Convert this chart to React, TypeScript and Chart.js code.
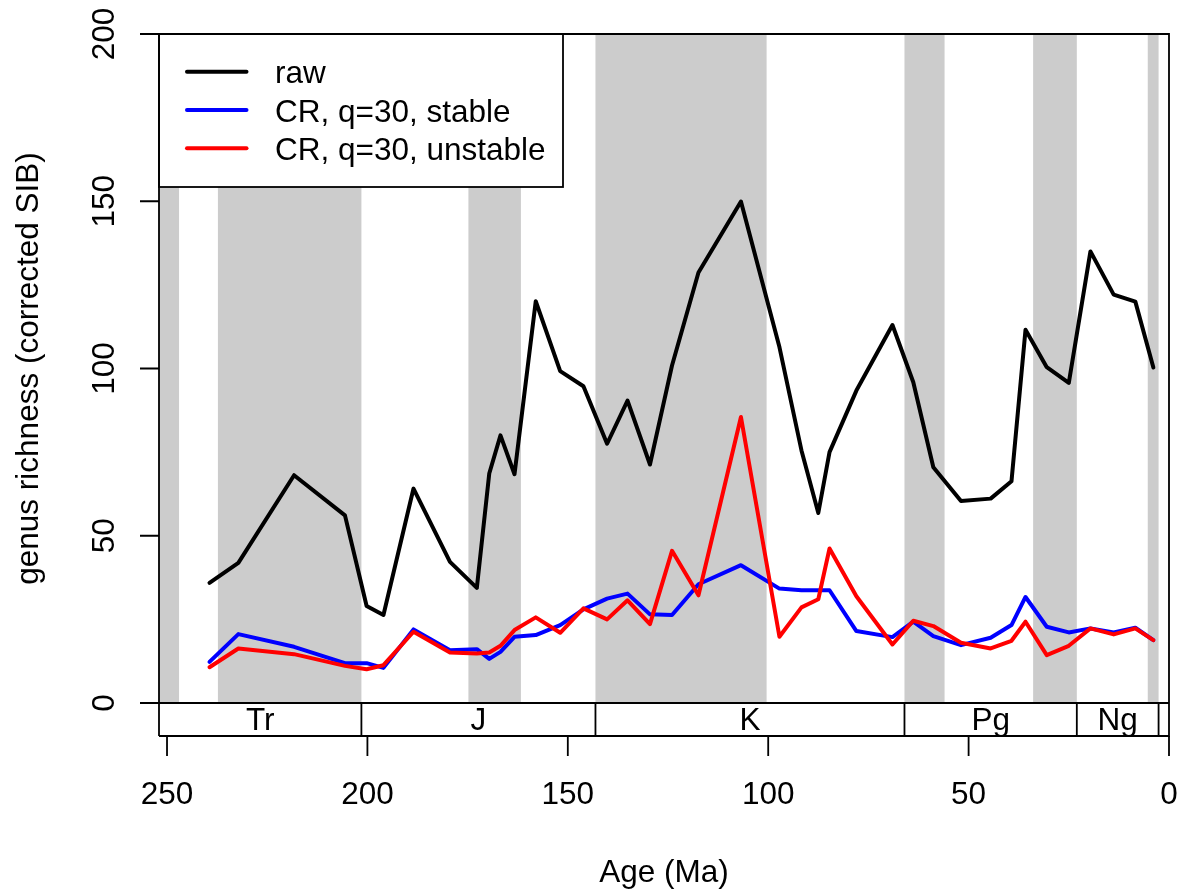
import React, { useEffect, useRef } from 'react';
import { Chart, registerables } from 'chart.js';

Chart.register(...registerables);

// Bin mid-point ages (Ma)
const ages = [239.4, 232.2, 218.3, 205.6, 200.2, 196.0, 188.5, 179.4, 172.7, 169.6, 166.8, 163.3, 158.0, 151.9, 146.1, 140.2, 135.1, 129.5, 124.0, 117.4, 106.8, 97.2, 91.7, 87.5, 84.7, 78.0, 69.0, 63.8, 58.8, 51.9, 44.5, 39.3, 35.8, 30.5, 25.0, 19.6, 13.8, 8.4, 3.9];
const raw = [35.9, 41.9, 68.1, 56.1, 29.0, 26.3, 64.1, 42.2, 34.4, 68.6, 80.0, 68.4, 120.1, 99.2, 94.7, 77.5, 90.4, 71.3, 100.9, 128.7, 149.9, 106.4, 75.5, 56.8, 75.0, 93.4, 113.0, 95.9, 70.5, 60.4, 61.1, 66.3, 111.6, 100.4, 95.7, 135.0, 122.1, 120.0, 100.3];
const stable = [12.3, 20.6, 16.8, 11.9, 11.9, 10.5, 22.0, 15.8, 16.1, 13.2, 15.3, 19.8, 20.3, 23.3, 28.0, 31.2, 32.7, 26.5, 26.3, 35.5, 41.2, 34.2, 33.7, 33.7, 33.7, 21.5, 19.7, 24.3, 20.0, 17.3, 19.5, 23.3, 31.7, 22.8, 21.1, 22.3, 21.1, 22.5, 18.8];
const unstable = [10.7, 16.3, 14.6, 11.1, 10.1, 11.3, 21.3, 15.1, 14.8, 15.1, 17.1, 21.8, 25.6, 21.0, 28.3, 25.0, 30.7, 23.6, 45.5, 32.2, 85.5, 19.8, 28.6, 31.0, 46.2, 31.9, 17.5, 24.6, 23.0, 18.0, 16.3, 18.6, 24.3, 14.3, 17.1, 22.3, 20.5, 22.3, 18.8];

// Grey (alternating epoch) bands
const bandStarts = [252.0, 237.3, 174.8, 143.1, 66.0, 33.9, 5.3];
const bandEnds = [247.0, 201.5, 161.7, 100.4, 56.0, 23.0, 2.6];

// Periods
const periodNames = ['Tr', 'J', 'K', 'Pg', 'Ng', ''];
const periodBounds = [252.0, 201.5, 143.1, 66.0, 23.0, 2.6, 0];

const xTicks = [250, 200, 150, 100, 50, 0];
const yTicks = [0, 50, 100, 150, 200];

const seriesLabels = ['raw', 'CR, q=30, stable', 'CR, q=30, unstable'];
const seriesColors = ['#000000', '#0000ff', '#ff0000'];

const xTitle = 'Age (Ma)';
const yTitle = 'genus richness (corrected SIB)';

export default function App() {
  const ref = useRef<HTMLCanvasElement>(null);

  useEffect(() => {
    document.body.style.margin = '0';
    const FONT = '31.5px "Liberation Sans", Arial, Helvetica, sans-serif';
    const LW = 1.8;
    const DLW = 4;
    const scaleBottom = 736;

    const decor = {
      id: 'rdecor',
      beforeDatasetsDraw(chart: any) {
        const { ctx, chartArea: a, scales } = chart;
        const x = scales.x;
        ctx.save();
        ctx.fillStyle = '#cccccc';
        for (let i = 0; i < bandStarts.length; i++) {
          const x1 = x.getPixelForValue(bandStarts[i]);
          const x2 = x.getPixelForValue(bandEnds[i]);
          ctx.fillRect(x1, a.top, x2 - x1, a.bottom - a.top);
        }
        ctx.restore();
      },
      afterDatasetsDraw(chart: any) {
        const { ctx, chartArea: a, scales } = chart;
        const x = scales.x;
        const y = scales.y;
        ctx.save();
        ctx.strokeStyle = '#000';
        ctx.fillStyle = '#000';
        ctx.lineWidth = LW;
        ctx.lineCap = 'butt';

        // legend
        const lx = a.left, ly = a.top, lw = 404, lh = 153;
        ctx.fillStyle = '#fff';
        ctx.fillRect(lx, ly, lw, lh);
        ctx.strokeRect(lx, ly, lw, lh);
        ctx.font = FONT;
        ctx.textAlign = 'left';
        ctx.textBaseline = 'alphabetic';
        for (let i = 0; i < seriesLabels.length; i++) {
          const yy = 71.7 + i * 38.3;
          ctx.beginPath();
          ctx.strokeStyle = seriesColors[i];
          ctx.lineWidth = DLW;
          ctx.lineCap = 'round';
          ctx.moveTo(187, yy);
          ctx.lineTo(246.5, yy);
          ctx.stroke();
          ctx.fillStyle = '#000';
          ctx.fillText(seriesLabels[i], 275, yy + 11.5);
        }
        ctx.strokeStyle = '#000';
        ctx.lineWidth = LW;
        ctx.lineCap = 'butt';

        // plot box + timescale box
        ctx.beginPath();
        ctx.moveTo(a.left, scaleBottom);
        ctx.lineTo(a.left, a.top);
        ctx.lineTo(a.right, a.top);
        ctx.lineTo(a.right, scaleBottom);
        ctx.lineTo(a.left, scaleBottom);
        ctx.moveTo(a.left, a.bottom);
        ctx.lineTo(a.right, a.bottom);
        ctx.stroke();

        // period boundaries and names
        ctx.beginPath();
        for (let i = 1; i < periodBounds.length - 1; i++) {
          const px = x.getPixelForValue(periodBounds[i]);
          ctx.moveTo(px, a.bottom);
          ctx.lineTo(px, scaleBottom);
        }
        ctx.stroke();
        ctx.textAlign = 'center';
        for (let i = 0; i < periodNames.length; i++) {
          if (!periodNames[i]) continue;
          const cx = (x.getPixelForValue(periodBounds[i]) + x.getPixelForValue(periodBounds[i + 1])) / 2;
          ctx.fillText(periodNames[i], cx, 730);
        }

        // x axis
        ctx.beginPath();
        const x0 = x.getPixelForValue(xTicks[0]);
        const xN = x.getPixelForValue(xTicks[xTicks.length - 1]);
        ctx.moveTo(x0, scaleBottom);
        ctx.lineTo(xN, scaleBottom);
        for (const v of xTicks) {
          const px = x.getPixelForValue(v);
          ctx.moveTo(px, scaleBottom);
          ctx.lineTo(px, scaleBottom + 20);
        }
        ctx.stroke();
        for (const v of xTicks) {
          ctx.fillText(String(v), x.getPixelForValue(v), 804);
        }
        ctx.fillText(xTitle, (a.left + a.right) / 2, 882);

        // y axis
        ctx.beginPath();
        for (const v of yTicks) {
          const py = y.getPixelForValue(v);
          ctx.moveTo(a.left - 19, py);
          ctx.lineTo(a.left, py);
        }
        ctx.stroke();
        for (const v of yTicks) {
          const py = y.getPixelForValue(v);
          ctx.save();
          ctx.translate(114, py);
          ctx.rotate(-Math.PI / 2);
          ctx.fillText(String(v), 0, 0);
          ctx.restore();
        }
        ctx.save();
        ctx.translate(38, (a.top + a.bottom) / 2);
        ctx.rotate(-Math.PI / 2);
        ctx.fillText(yTitle, 0, 0);
        ctx.restore();

        ctx.restore();
      },
    };

    const mk = (vals: number[]) => vals.map((v, i) => ({ x: ages[i], y: v }));
    const seriesData = [raw, stable, unstable];

    const chart = new Chart(ref.current as HTMLCanvasElement, {
      type: 'line',
      data: {
        datasets: seriesData.map((vals, i) => ({
          label: seriesLabels[i],
          data: mk(vals),
          borderColor: seriesColors[i],
          backgroundColor: seriesColors[i],
          borderWidth: DLW,
          pointRadius: 0,
          tension: 0,
          fill: false,
          borderJoinStyle: 'round' as const,
          borderCapStyle: 'round' as const,
          order: 3 - i,
        })),
      },
      options: {
        responsive: false,
        maintainAspectRatio: false,
        animation: false,
        devicePixelRatio: 1,
        layout: { padding: { left: 159, right: 10, top: 34, bottom: 187 } },
        plugins: { legend: { display: false }, tooltip: { enabled: false } },
        scales: {
          x: { type: 'linear', min: 0, max: 252, reverse: true, display: false },
          y: { type: 'linear', min: 0, max: 200, display: false },
        },
      },
      plugins: [decor],
    });
    return () => chart.destroy();
  }, []);

  return (
    <div style={{ position: 'absolute', left: 0, top: 0, width: 1179, height: 890, background: '#fff' }}>
      <canvas ref={ref} width={1179} height={890} style={{ display: 'block' }} />
    </div>
  );
}
